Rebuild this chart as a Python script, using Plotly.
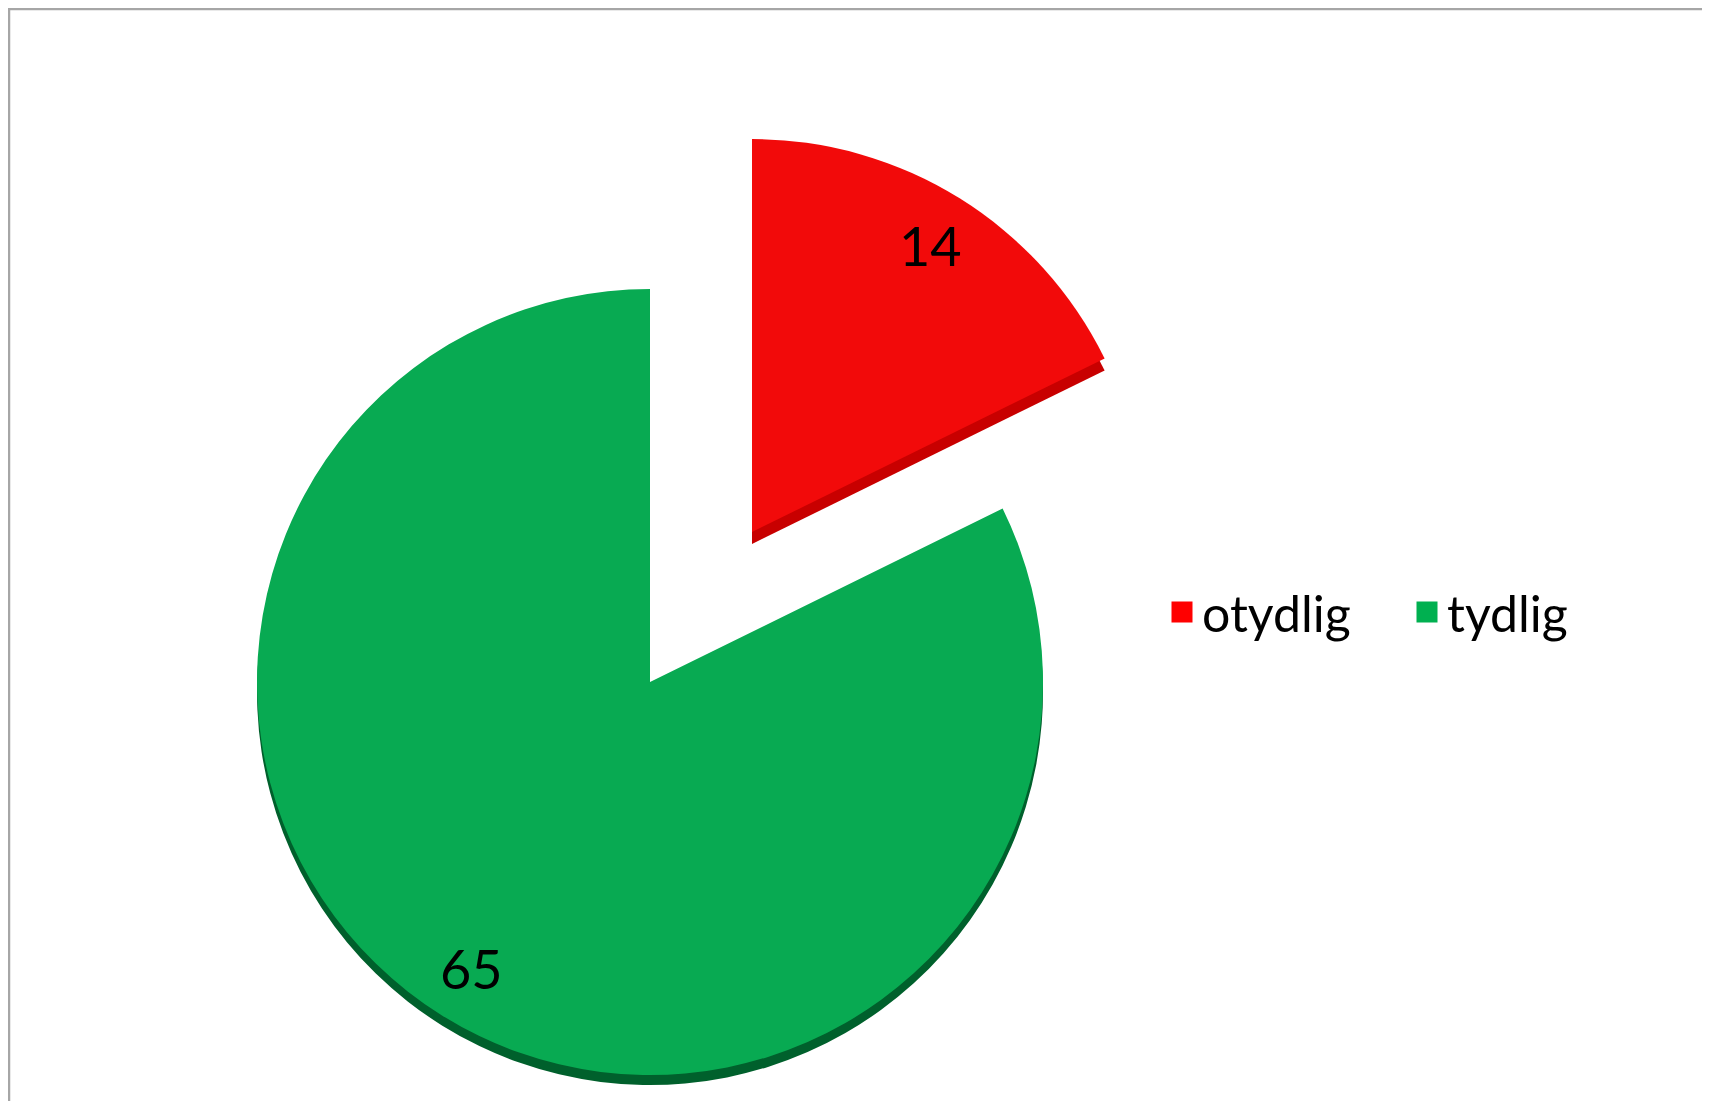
import math
import plotly.graph_objects as go

# ---- data ----
categories = ["otydlig", "tydlig"]
values = [14, 65]
face_colors = ["#F20A0A", "#08AA52"]
side_colors = ["#C80000", "#00602C"]
legend_colors = ["#FF0000", "#00B050"]

W, H = 1710, 1101
OFF = 8  # page body margin
FONT = "Lato, Carlito, 'Open Sans', sans-serif"
CLEAR = "rgba(0,0,0,0)"

# geometry (page pixels) of the two pie layers: whole pie and exploded slice
R = 393
GREEN_C = (650, 682)
RED_C = (752, 532)
DEPTH = 10
LABEL_POS = 0.86  # label distance along slice bisector, fraction of radius


def px_to_paper(x, y):
    return (x - OFF) / W, 1 - (y - OFF) / H


def domain(cx, cy, r):
    x0, y1 = px_to_paper(cx - r, cy - r)
    x1, y0 = px_to_paper(cx + r, cy + r)
    return dict(x=[x0, x1], y=[y0, y1])


def pie_layer(center, show_idx, colors, name):
    cols = [colors[i] if i == show_idx else CLEAR for i in range(len(values))]
    return go.Pie(
        labels=categories,
        values=values,
        sort=False,
        direction="clockwise",
        rotation=0,
        domain=domain(*center, R),
        marker=dict(colors=cols, line=dict(width=0)),
        textinfo="none",
        showlegend=False,
        hoverinfo="skip",
        name=name,
    )


fig = go.Figure()
fig.add_trace(pie_layer((GREEN_C[0], GREEN_C[1] + DEPTH), 1, side_colors, "side"))
fig.add_trace(pie_layer(GREEN_C, 1, face_colors, "face"))
fig.add_trace(pie_layer((RED_C[0], RED_C[1] + DEPTH + 2), 0, side_colors, "side"))
fig.add_trace(pie_layer(RED_C, 0, face_colors, "face"))

# value labels along each slice's bisector
total = sum(values)
annotations = []
cum = 0
centers = [RED_C, GREEN_C]
for i, v in enumerate(values):
    mid = (cum + v / 2) / total * 2 * math.pi
    cum += v
    cx, cy = centers[i]
    lx = cx + LABEL_POS * R * math.sin(mid)
    ly = cy - LABEL_POS * R * math.cos(mid)
    ax, ay = px_to_paper(lx, ly)
    annotations.append(dict(
        x=ax, y=ay, xref="paper", yref="paper", text=str(v), showarrow=False,
        font=dict(family=FONT, size=54, color="black"),
        xanchor="center", yanchor="middle",
    ))

# legend entries
for name, col in zip(categories, legend_colors):
    fig.add_trace(go.Scatter(
        x=[None], y=[None], mode="markers", name=name,
        marker=dict(symbol="square", size=16, color=col, line=dict(width=5, color=col)),
        showlegend=True,
    ))

lx, ly = px_to_paper(1162, 612)
bx0, by1 = px_to_paper(9, 9)
fig.update_layout(
    width=W,
    height=H,
    margin=dict(l=0, r=0, t=0, b=0),
    paper_bgcolor="white",
    plot_bgcolor="white",
    xaxis=dict(visible=False),
    yaxis=dict(visible=False),
    annotations=annotations,
    legend=dict(
        orientation="h",
        x=lx,
        y=ly,
        xanchor="left",
        yanchor="middle",
        font=dict(family=FONT, size=50, color="black"),
        bgcolor=CLEAR,
        entrywidth=200,
        entrywidthmode="pixels",
        itemclick=False,
    ),
    shapes=[dict(
        type="rect", xref="paper", yref="paper",
        x0=bx0, y0=-0.2, x1=1.2, y1=by1,
        line=dict(color="#A6A6A6", width=2.5),
        fillcolor=CLEAR, layer="above",
    )],
)

fig.write_html("out.html")
